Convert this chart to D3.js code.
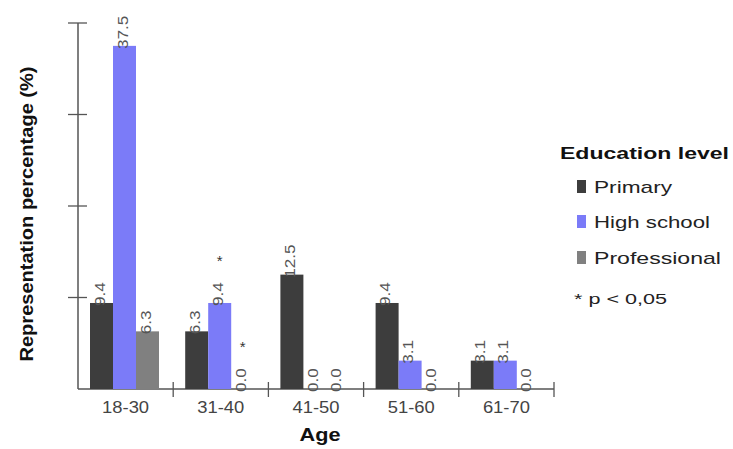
<!DOCTYPE html>
<html>
<head>
<meta charset="utf-8">
<script src="https://cdn.jsdelivr.net/npm/d3@7/dist/d3.min.js"></script>
<style>
  html, body { margin: 0; padding: 0; background: #fff; }
  svg { display: block; font-family: "Liberation Sans", Arial, sans-serif; }
</style>
</head>
<body>
<svg id="chart" width="733" height="449"></svg>
<script>
// ---- data ----
const categories = ["18-30", "31-40", "41-50", "51-60", "61-70"];
const seriesNames = ["Primary", "High school", "Professional"];
const primary = [9.4, 6.3, 12.5, 9.4, 3.1];
const highSchool = [37.5, 9.4, 0.0, 3.1, 3.1];
const professional = [6.3, 0.0, 0.0, 0.0, 0.0];
const sigPrimary = [false, false, false, false, false];
const sigHighSchool = [false, true, false, false, false];
const sigProfessional = [false, true, false, false, false];
const yTicks = [10, 20, 30, 40];
const colors = ["#3d3d3d", "#7b7bf8", "#808080"];

const seriesValues = [primary, highSchool, professional];
const seriesSig = [sigPrimary, sigHighSchool, sigProfessional];

const svg = d3.select("#chart");

const x = d3.scaleBand().domain(categories).range([78, 554]).padding(0);
const xs = d3.scaleBand().domain(seriesNames).range([12, 81]).padding(0);
const y = d3.scaleLinear().domain([0, 40]).range([389, 23]);

const axisColor = "#555";

// y axis line and cross ticks
svg.append("line").attr("x1", 78).attr("x2", 78).attr("y1", y(40)).attr("y2", y(0))
  .attr("stroke", axisColor).attr("stroke-width", 1.5);
svg.selectAll(".ytick").data(yTicks).enter().append("line")
  .attr("x1", 68).attr("x2", 87).attr("y1", d => y(d)).attr("y2", d => y(d))
  .attr("stroke", axisColor).attr("stroke-width", 1.3);

// x axis line and ticks at band boundaries
svg.append("line").attr("x1", 78).attr("x2", 554).attr("y1", y(0)).attr("y2", y(0))
  .attr("stroke", axisColor).attr("stroke-width", 1.5);
svg.selectAll(".xtick").data(categories).enter().append("line")
  .attr("x1", d => x(d) + x.bandwidth()).attr("x2", d => x(d) + x.bandwidth())
  .attr("y1", y(0) - 7).attr("y2", y(0) + 8)
  .attr("stroke", axisColor).attr("stroke-width", 1.3);

// x tick labels
svg.selectAll(".xlab").data(categories).enter().append("text")
  .attr("x", d => x(d) + x.bandwidth() / 2).attr("y", 413)
  .attr("text-anchor", "middle").attr("font-size", 16).attr("fill", "#444")
  .attr("textLength", 47).attr("lengthAdjust", "spacingAndGlyphs")
  .text(d => d);

// bars
const flat = [];
seriesNames.forEach((s, si) => {
  categories.forEach((c, ci) => {
    flat.push({ s, si, c, v: seriesValues[si][ci], sig: seriesSig[si][ci] });
  });
});

svg.selectAll(".bar").data(flat).enter().append("rect")
  .attr("x", d => x(d.c) + xs(d.s))
  .attr("width", xs.bandwidth())
  .attr("y", d => y(d.v))
  .attr("height", d => y(0) - y(d.v))
  .attr("fill", d => colors[d.si]);

// value labels (rotated)
svg.selectAll(".vlab").data(flat).enter().append("text")
  .attr("transform", d => {
    const cx = x(d.c) + xs(d.s) + xs.bandwidth() / 2 + 3;
    const cy = y(d.v) + 3;
    return `translate(${cx},${cy}) rotate(-90) scale(1.22,1)`;
  })
  .attr("font-size", 14).attr("fill", "#555")
  .attr("text-anchor", "start")
  .text(d => d.v.toFixed(1));

// significance asterisks
svg.selectAll(".sig").data(flat.filter(d => d.sig)).enter().append("text")
  .attr("x", d => x(d.c) + xs(d.s) + xs.bandwidth() / 2)
  .attr("y", d => y(d.v) - 45 + 8)
  .attr("text-anchor", "middle").attr("font-size", 15).attr("fill", "#333")
  .text("*");

// axis titles
svg.append("text")
  .attr("transform", `translate(33,214) rotate(-90)`)
  .attr("text-anchor", "middle").attr("font-size", 19).attr("font-weight", "bold")
  .attr("fill", "#111").attr("textLength", 295).attr("lengthAdjust", "spacingAndGlyphs")
  .text("Representation percentage (%)");

svg.append("text")
  .attr("x", 320).attr("y", 441).attr("text-anchor", "middle")
  .attr("font-size", 18).attr("font-weight", "bold").attr("fill", "#111")
  .attr("textLength", 41).attr("lengthAdjust", "spacingAndGlyphs")
  .text("Age");

// legend
svg.append("text")
  .attr("x", 560).attr("y", 159).attr("font-size", 17).attr("font-weight", "bold")
  .attr("fill", "#111").attr("textLength", 169).attr("lengthAdjust", "spacingAndGlyphs")
  .text("Education level");

const legendBaselines = [193, 228, 264];
const legendWidths = [78, 116, 127];
const lg = svg.selectAll(".leg").data(seriesNames).enter().append("g");
lg.append("rect")
  .attr("x", 577).attr("y", (d, i) => legendBaselines[i] - 13)
  .attr("width", 9).attr("height", 13)
  .attr("fill", (d, i) => colors[i]);
lg.append("text")
  .attr("x", 594).attr("y", (d, i) => legendBaselines[i])
  .attr("font-size", 17).attr("fill", "#222")
  .attr("textLength", (d, i) => legendWidths[i]).attr("lengthAdjust", "spacingAndGlyphs")
  .text(d => d);

svg.append("text")
  .attr("x", 574).attr("y", 304).attr("font-size", 15).attr("fill", "#222")
  .attr("textLength", 93).attr("lengthAdjust", "spacingAndGlyphs")
  .text("* p < 0,05");
</script>
</body>
</html>
